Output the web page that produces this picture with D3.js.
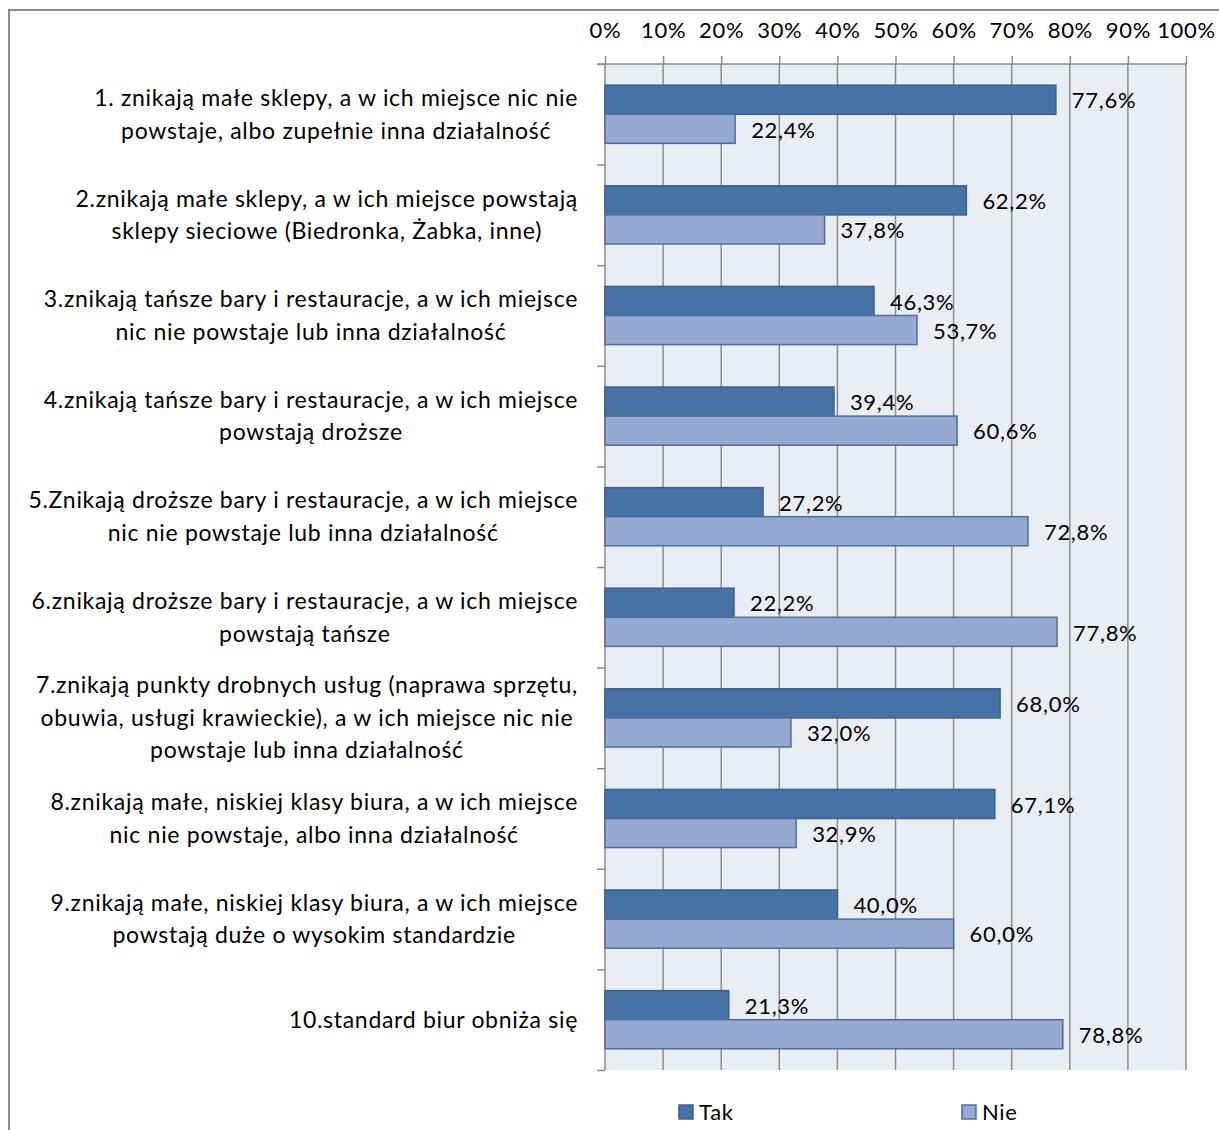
<!DOCTYPE html>
<html>
<head>
<meta charset="utf-8">
<script src="https://cdn.jsdelivr.net/npm/d3@7"></script>
<style>
  body { margin: 0; background: #fff; }
  svg text { font-family: Lato, "Open Sans", sans-serif; fill: #000; letter-spacing: 0.7px; }
</style>
</head>
<body>
<div id="chart"></div>
<script>
// categories (label lines as they wrap in the original)
const categories = [
  ["1. znikają małe sklepy, a w ich miejsce nic nie", "powstaje, albo zupełnie inna działalność"],
  ["2.znikają małe sklepy, a w ich miejsce powstają", "sklepy sieciowe (Biedronka, Żabka, inne)"],
  ["3.znikają tańsze bary i restauracje, a w ich miejsce", "nic nie powstaje lub inna działalność"],
  ["4.znikają tańsze bary i restauracje, a w ich miejsce", "powstają droższe"],
  ["5.Znikają droższe bary i restauracje, a w ich miejsce", "nic nie powstaje lub inna działalność"],
  ["6.znikają droższe bary i restauracje, a w ich miejsce", "powstają tańsze"],
  ["7.znikają punkty drobnych usług (naprawa sprzętu,", "obuwia, usługi krawieckie), a w ich miejsce nic nie", "powstaje lub inna działalność"],
  ["8.znikają małe, niskiej klasy biura, a w ich miejsce", "nic nie powstaje, albo inna działalność"],
  ["9.znikają małe, niskiej klasy biura, a w ich miejsce", "powstają duże o wysokim standardzie"],
  ["10.standard biur obniża się"]
];
const seriesNames = ["Tak", "Nie"];
const takValues = [77.6, 62.2, 46.3, 39.4, 27.2, 22.2, 68.0, 67.1, 40.0, 21.3];
const nieValues = [22.4, 37.8, 53.7, 60.6, 72.8, 77.8, 32.0, 32.9, 60.0, 78.8];
const tickValues = [0, 10, 20, 30, 40, 50, 60, 70, 80, 90, 100];

const width = 1219, height = 1130;
const margin = { left: 605, right: 33, top: 64, bottom: 60 };
const innerWidth = width - margin.left - margin.right;
const innerHeight = height - margin.top - margin.bottom;

const colors = { Tak: "#4672A6", Nie: "#95A9D1" };
const strokes = { Tak: "#3A5F8C", Nie: "#4C6E9E" };
const fontSize = 23;

const rows = categories.map((lines, i) => ({
  id: i,
  lines: lines,
  Tak: takValues[i],
  Nie: nieValues[i]
}));

const svg = d3.select("#chart").append("svg")
  .attr("width", width)
  .attr("height", height);

// outer frame: only the top and left edges are inside the picture
svg.append("path")
  .attr("d", `M9,${height}V10H${width}`)
  .attr("fill", "none")
  .attr("stroke", "#8a8a8a")
  .attr("stroke-width", 2);

const g = svg.append("g")
  .attr("transform", `translate(${margin.left},${margin.top})`);

const xScale = d3.scaleLinear().domain([0, 100]).range([0, innerWidth]);
const yScale = d3.scaleBand()
  .domain(rows.map(d => d.id))
  .range([0, innerHeight])
  .padding(0);
const ySub = d3.scaleBand()
  .domain(seriesNames)
  .range([0, yScale.bandwidth()])
  .paddingInner(0)
  .paddingOuter(0.73);

// plot background
g.append("path")
  .attr("d", `M0,0H${innerWidth}V${innerHeight}H0Z`)
  .attr("fill", "#E9EDF4");

// vertical gridlines
g.append("g")
  .selectAll("line")
  .data(tickValues.slice(1))
  .join("line")
  .attr("x1", d => xScale(d)).attr("x2", d => xScale(d))
  .attr("y1", 0).attr("y2", innerHeight)
  .attr("stroke", "#8c8c8c")
  .attr("stroke-width", 1.5);

// top value axis
const xAxis = d3.axisTop(xScale)
  .tickValues(tickValues)
  .tickSize(8)
  .tickPadding(18)
  .tickFormat(d => d + "%");

g.append("g")
  .attr("class", "x-axis")
  .call(xAxis)
  .call(ax => ax.select(".domain").attr("stroke", "#8c8c8c").attr("stroke-width", 1.5)
    .attr("d", `M-8,0H${innerWidth}`))
  .call(ax => ax.selectAll(".tick line").attr("stroke", "#8c8c8c").attr("stroke-width", 1.5))
  .call(ax => ax.selectAll(".tick text")
    .attr("font-size", 22)
    .attr("font-family", "Lato, 'Open Sans', sans-serif")
    .attr("fill", "#000"));

// left category axis: ticks at band boundaries
const yEdge = d3.scaleLinear().domain([0, rows.length]).range([0, innerHeight]);
g.append("g")
  .attr("class", "y-axis")
  .call(d3.axisLeft(yEdge).tickValues(d3.range(rows.length + 1)).tickSize(8).tickFormat(""))
  .call(ax => ax.select(".domain").attr("stroke", "#8c8c8c").attr("stroke-width", 1.5)
    .attr("d", `M0,0V${innerHeight}`))
  .call(ax => ax.selectAll(".tick line").attr("stroke", "#8c8c8c").attr("stroke-width", 1.5));

// bars
const groups = g.selectAll(".barGroup")
  .data(rows)
  .join("g")
  .attr("class", "barGroup")
  .attr("transform", d => `translate(0,${yScale(d.id)})`);

groups.selectAll("rect")
  .data(d => seriesNames.map(s => ({ key: s, value: d[s] })))
  .join("rect")
  .attr("x", 0)
  .attr("y", d => ySub(d.key))
  .attr("width", d => xScale(d.value))
  .attr("height", ySub.bandwidth())
  .attr("fill", d => colors[d.key])
  .attr("stroke", d => strokes[d.key])
  .attr("stroke-width", 1.5);

groups.selectAll(".val")
  .data(d => seriesNames.map(s => ({ key: s, value: d[s] })))
  .join("text")
  .attr("class", "val")
  .attr("x", d => xScale(d.value) + 16)
  .attr("y", d => ySub(d.key) + ySub.bandwidth() / 2 + 1)
  .attr("dy", "0.35em")
  .attr("font-size", 22)
  .text(d => d.value.toFixed(1).replace(".", ",") + "%");

// category labels: centred block, right edge next to the axis
const labelRight = -27;
const lineH = 32.5;
groups.each(function (d) {
  const grp = d3.select(this);
  const cy = yScale.bandwidth() / 2;
  const n = d.lines.length;
  const texts = grp.selectAll(".lab")
    .data(d.lines)
    .join("text")
    .attr("class", "lab")
    .attr("text-anchor", "middle")
    .attr("font-size", fontSize)
    .attr("y", (t, i) => cy + (i - (n - 1) / 2) * lineH)
    .attr("dy", "0.35em")
    .text(t => t);
  let maxW = 0;
  texts.each(function () { maxW = Math.max(maxW, this.getComputedTextLength()); });
  texts.attr("x", labelRight - maxW / 2);
});

// legend
const legendX = [679 - margin.left, 962 - margin.left];
const legend = g.append("g")
  .attr("transform", `translate(0,${innerHeight + 42})`);
const li = legend.selectAll("g")
  .data(seriesNames)
  .join("g")
  .attr("transform", (d, i) => `translate(${legendX[i]},0)`);
li.append("rect")
  .attr("x", 0).attr("y", -7)
  .attr("width", 14).attr("height", 14)
  .attr("fill", d => colors[d])
  .attr("stroke", d => strokes[d])
  .attr("stroke-width", 1.5);
li.append("text")
  .attr("x", 20)
  .attr("dy", "0.35em")
  .attr("font-size", 22)
  .text(d => d);
</script>
</body>
</html>
